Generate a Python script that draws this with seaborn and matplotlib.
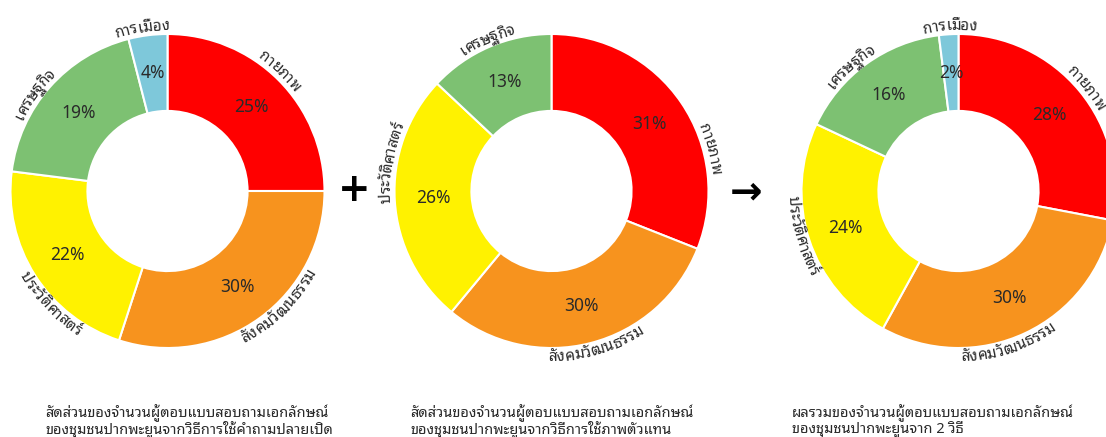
import numpy as np
import matplotlib
matplotlib.use("Agg")
import matplotlib.pyplot as plt
import seaborn as sns
from matplotlib.font_manager import FontProperties

# categories and shares (percent) for each donut
categories = ["กายภาพ", "สังคมวัฒนธรรม", "ประวัติศาสตร์", "เศรษฐกิจ", "การเมือง"]
open_question = [25, 30, 22, 19, 4]
picture_method = [31, 30, 26, 13, 0]
combined = [28, 30, 24, 16, 2]

colors = sns.color_palette(["#FF0000", "#F7931E", "#FFF200", "#7DC172", "#7EC8DA"])

captions = [
    ["สัดส่วนของจำนวนผู้ตอบแบบสอบถามเอกลักษณ์", "ของชุมชนปากพะยูนจากวิธีการใช้คำถามปลายเปิด"],
    ["สัดส่วนของจำนวนผู้ตอบแบบสอบถามเอกลักษณ์", "ของชุมชนปากพะยูนจากวิธีการใช้ภาพตัวแทน"],
    ["ผลรวมของจำนวนผู้ตอบแบบสอบถามเอกลักษณ์", "ของชุมชนปากพะยูนจาก 2 วิธี"],
]

# where the curved outer labels sit (degrees clockwise from 12 o'clock)
label_angles = [
    [43, 136, 226, 306, 351],
    [75, 164, 280, 337, None],
    [51, 162, 254, 319, 357],
]

W, H = 1106, 437
R_PX = 157        # outer radius in pixels
LIM = 1.25
centers = [(167.5, 191), (551.5, 191), (958.5, 191)]
caption_x = [45, 410, 792]

THAI = ["Noto Sans Thai Looped", "Noto Sans", "DejaVu Sans"]
TEXT_COLOR = "#2a2a2a"

sns.set_theme(style="white")
plt.rcParams["font.family"] = THAI

THAI_MARKS = set([0x0E31] + list(range(0x0E34, 0x0E3B)) + list(range(0x0E47, 0x0E4F)))


def split_clusters(s):
    out = []
    for ch in s:
        if out and ord(ch) in THAI_MARKS:
            out[-1] += ch
        else:
            out.append(ch)
    return out


def curved_label(ax, text, angle, size=11):
    renderer = ax.figure.canvas.get_renderer()
    prop = FontProperties(family=THAI, size=size)
    clusters = split_clusters(text)
    # cumulative widths of prefixes give cluster positions
    edges = [0.0]
    for k in range(1, len(clusters) + 1):
        w = renderer.get_text_width_height_descent("".join(clusters[:k]), prop, ismath=False)[0]
        edges.append(w)
    total = edges[-1]
    bottom = 90 < angle < 270
    gap = 4
    body = 9
    if bottom:
        r_base = R_PX + gap + body
        r_arc = R_PX + gap + body / 2
        sign = -1
    else:
        r_base = R_PX + gap
        r_arc = R_PX + gap + body / 2
        sign = 1
    for k, c in enumerate(clusters):
        mid = (edges[k] + edges[k + 1]) / 2 - total / 2
        th = angle + sign * np.degrees(mid / r_arc)
        t = np.radians(th)
        x = r_base / R_PX * np.sin(t)
        y = r_base / R_PX * np.cos(t)
        rot = 180 - th if bottom else -th
        ax.text(x, y, c, fontproperties=prop, rotation=rot, rotation_mode="anchor",
                ha="center", va="baseline", color=TEXT_COLOR)


def draw_donut(fig, center, values, angles):
    cx, cy = center
    half = LIM * R_PX
    ax = fig.add_axes([(cx - half) / W, (H - cy - half) / H, 2 * half / W, 2 * half / H])
    keep = [i for i, v in enumerate(values) if v > 0]
    vals = [values[i] for i in keep]
    cols = [colors[i] for i in keep]
    ax.pie(vals, colors=cols, startangle=90, counterclock=False, radius=1,
           wedgeprops=dict(width=0.49, edgecolor="white", linewidth=1.5))
    ax.set_xlim(-LIM, LIM)
    ax.set_ylim(-LIM, LIM)
    ax.set_aspect("equal")
    ax.axis("off")

    start = 0.0
    total = float(sum(vals))
    for i, v in zip(keep, vals):
        mid = start + v / total * 360 / 2
        start += v / total * 360
        t = np.radians(mid)
        r = 0.755
        ax.text(r * np.sin(t), r * np.cos(t), f"{v}%", ha="center", va="center",
                fontsize=12.5, color=TEXT_COLOR)
        curved_label(ax, categories[i], angles[i])
    return ax


fig = plt.figure(figsize=(W / 100, H / 100), dpi=100)
fig.canvas.draw()

for center, values, angles in zip(centers, [open_question, picture_method, combined], label_angles):
    draw_donut(fig, center, values, angles)

# operators between the charts
fig.text(354 / W, 1 - 190 / H, "+", ha="center", va="center", fontsize=28,
         fontweight="bold", family="DejaVu Sans", color="black")
fig.text(746 / W, 1 - 192 / H, "→", ha="center", va="center", fontsize=28,
         fontweight="bold", family="DejaVu Sans", color="black")

# two-line captions, one text per line
for x, lines in zip(caption_x, captions):
    for j, line in enumerate(lines):
        fig.text(x / W, 1 - (417 + 16 * j) / H, line, ha="left", va="baseline",
                 fontsize=10.5, color=TEXT_COLOR)

fig.savefig("out.png", dpi=100)
